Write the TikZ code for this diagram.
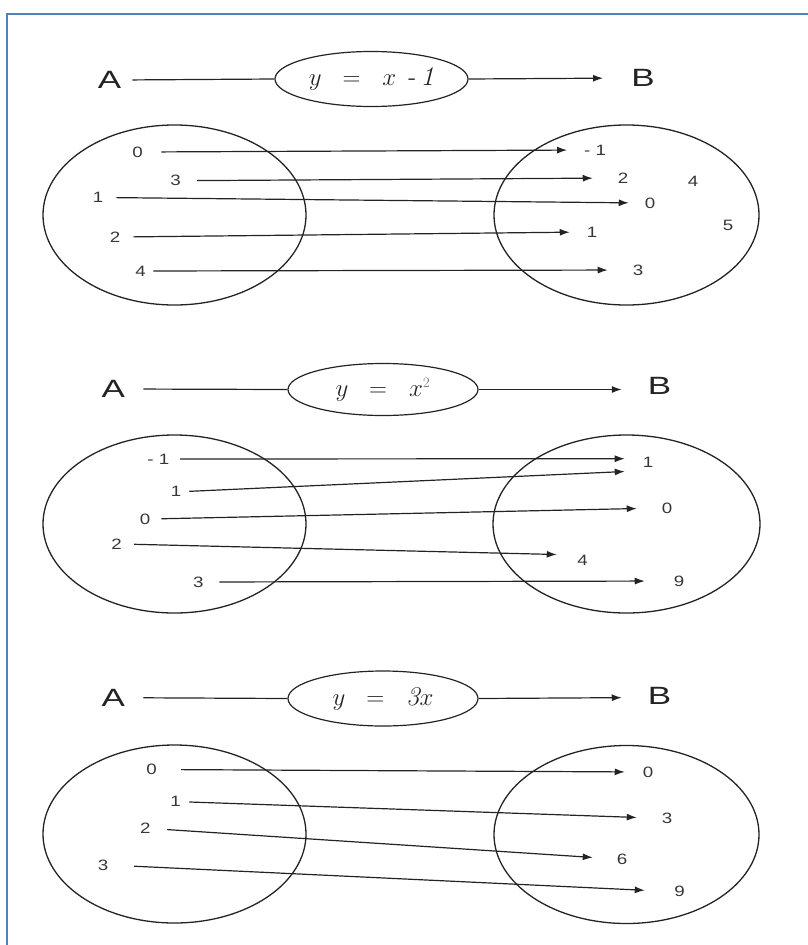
\documentclass[tikz,border=0pt]{standalone}
\usepackage{fontspec}
\usetikzlibrary{arrows.meta,shapes.geometric}
\newfontfamily\labelfont{Liberation Sans}
\newfontfamily\formfont{Latin Modern Roman}
\definecolor{frameblue}{RGB}{79,129,189}
\definecolor{ink}{RGB}{35,35,35}
\definecolor{numink}{RGB}{55,55,55}
\tikzset{
  setname/.style={font=\labelfont\fontsize{25}{25}\selectfont, text=ink, inner sep=0pt, xscale=1.4},
  dig/.style={font=\labelfont\fontsize{15}{15}\selectfont, text=numink, inner sep=0pt, xscale=1.25},
  rule/.style={draw=ink, line width=1.2pt},
  formula/.style={ellipse, draw=ink, line width=1.2pt, inner sep=0pt,
    font=\fontsize{27}{27}\selectfont, text=ink},
  setoval/.style={ellipse, draw=ink, line width=1.3pt, inner sep=0pt},
  arr/.style 2 args={draw=ink, line width=1.2pt, -{Latex[length=10pt,width=7pt]},
    shorten <=#1pt, shorten >=#2pt},
}
\begin{document}
\begin{tikzpicture}[x=1pt,y=-1pt]
\useasboundingbox (0,0) rectangle (808,945);
% frame
\draw[frameblue, line width=2.2pt] (7,945) -- (7,14) -- (808,14);

% ---------- y = x - 1 ----------
\node[setname] (A1) at (109.5,80) {A};
\node[formula, minimum width=193pt, minimum height=55pt] (f1) at (371.5,79)
  {$y\hspace{14pt}=\hspace{15pt}x\hspace{10pt}\mbox{\formfont\itshape -\hspace{5pt}1}$};
\node[setname] (B1) at (643,78) {B};
\draw[rule, shorten <=11pt] (A1.east) -- (f1.west);
\draw[arr={0}{28}] (f1.east) -- (B1.west);

\node[setoval, minimum width=263pt, minimum height=180pt] (L1) at (174.5,215) {};
\node[setoval, minimum width=265pt, minimum height=180pt] (R1) at (626.5,215) {};

\node[dig] (a0) at (137.5,152) {0};
\node[dig] (a3) at (175.7,180.7) {3};
\node[dig] (a1) at (98,197.5) {1};
\node[dig] (a2) at (115,237) {2};
\node[dig] (a4) at (140.5,271) {4};

\node[dig] (bm1) at (595,150) {- 1};
\node[dig] (b2) at (623,178) {2};
\node[dig] (b4) at (693,181) {4};
\node[dig] (b0) at (650,203) {0};
\node[dig] (b5) at (728,225) {5};
\node[dig] (b1) at (592,232) {1};
\node[dig] (b3) at (638,270) {3};

\draw[arr={18.3}{16.7}] (a0.east) -- (bm1.west);
\draw[arr={16}{24.8}] (a3.east) -- (b2.west);
\draw[arr={12.8}{15.8}] (a1.east) -- (b0.west);
\draw[arr={12.8}{16.8}] (a2.east) -- (b1.west);
\draw[arr={7.3}{24.8}] (a4.east) -- (b3.west);

% ---------- y = x^2 ----------
\node[setname] (A2) at (113.3,389) {A};
\node[formula, minimum width=190pt, minimum height=52pt] (f2) at (383,389.5)
  {$y\hspace{14pt}=\hspace{15pt}x^{\textcolor{gray}{\scriptscriptstyle 2}}$};
\node[setname] (B2) at (659.5,386) {B};
\draw[rule, shorten <=18pt] (A2.east) -- (f2.west);
\draw[arr={0}{25.8}] (f2.east) -- ([yshift=-3.5pt]B2.west);

\node[setoval, minimum width=263pt, minimum height=178pt] (L2) at (174.5,524) {};
\node[setoval, minimum width=267pt, minimum height=178pt] (R2) at (626.5,524) {};

\node[dig] (cm1) at (158.3,459) {- 1};
\node[dig] (c1) at (176,491.7) {1};
\node[dig] (c0) at (145,519) {0};
\node[dig] (c2) at (116.7,544) {2};
\node[dig] (c3) at (198.3,582) {3};

\node[dig] (d1) at (648,462.7) {1};
\node[dig] (d0) at (667,508) {0};
\node[dig] (d4) at (582.5,560) {4};
\node[dig] (d9) at (679,581) {9};

\draw[arr={10.7}{17.8}] (cm1.east) -- ([yshift=4pt]d1.west);
\draw[arr={7.8}{17.8}] (c1.east) -- ([yshift=-8pt]d1.west);
\draw[arr={10.8}{24.8}] (c0.east) -- (d0.west);
\draw[arr={12}{20.3}] (c2.east) -- ([yshift=5pt]d4.west);
\draw[arr={15.5}{28.8}] (c3.east) -- (d9.west);

% ---------- y = 3x ----------
\node[setname] (A3) at (113.3,697.7) {A};
\node[formula, minimum width=190pt, minimum height=55pt] (f3) at (383,698.5)
  {$y\hspace{14pt}=\hspace{15pt}\mbox{\formfont\itshape 3}x$};
\node[setname] (B3) at (659.5,696) {B};
\draw[rule, shorten <=18pt] (A3.east) -- (f3.west);
\draw[arr={0}{25.8}] (f3.east) -- ([yshift=-1.5pt]B3.west);

\node[setoval, minimum width=263pt, minimum height=178pt] (L3) at (174.5,834) {};
\node[setoval, minimum width=265pt, minimum height=178pt] (R3) at (626.5,834.5) {};

\node[dig] (e0) at (151.7,769.5) {0};
\node[dig] (e1) at (175.5,801.7) {1};
\node[dig] (e2) at (145.3,828.5) {2};
\node[dig] (e3) at (103,865) {3};

\node[dig] (g0) at (648,772) {0};
\node[dig] (g3) at (667,818.3) {3};
\node[dig] (g6) at (622,859) {6};
\node[dig] (g9) at (679.7,891.7) {9};

\draw[arr={24}{17.8}] (e0.east) -- (g0.west);
\draw[arr={8.3}{24.8}] (e1.east) -- (g3.west);
\draw[arr={16.5}{23.8}] (e2.east) -- (g6.west);
\draw[arr={25.8}{29.5}] (e3.east) -- (g9.west);
\end{tikzpicture}
\end{document}
